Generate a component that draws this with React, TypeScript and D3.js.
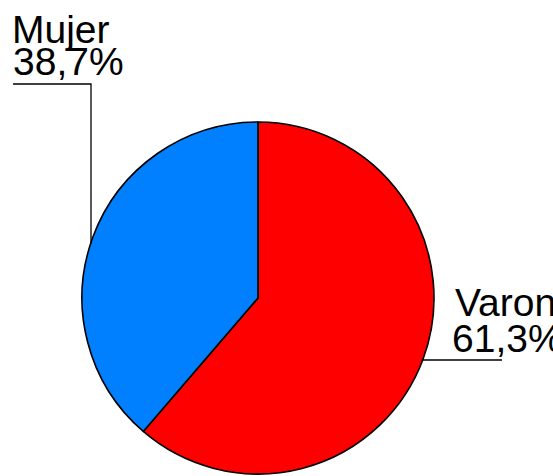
import React from "react";
import * as d3 from "d3";

const categories = ["Varon", "Mujer"];
const values = [61.3, 38.7];
const valueLabels = ["61,3%", "38,7%"];
const colors = ["#FF0000", "#0080FF"];

const W = 553;
const H = 476;
const cx = 258;
const cy = 298;
const R = 176;

const labelLayout = [
  { nameX: 455, nameY: 316, valX: 452, valY: 352, lineY: 360, lineFar: 502, side: "right" },
  { nameX: 12, nameY: 43, valX: 13, valY: 75, lineY: 84, lineFar: 13, side: "left", elbowX: 91 },
];

export default function App() {
  const pie = d3
    .pie<number>()
    .sort(null)
    .value((d) => d)
    .startAngle(0)
    .endAngle(2 * Math.PI);
  const arcs = pie(values);
  const arc = d3.arc<d3.PieArcDatum<number>>().innerRadius(0).outerRadius(R);

  return (
    <svg
      width={W}
      height={H}
      style={{ position: "absolute", left: 0, top: 0, fontFamily: "'Liberation Sans', Arial, sans-serif" }}
    >
      <rect width={W} height={H} fill="#fff" />
      <g transform={`translate(${cx},${cy})`}>
        {arcs.map((a, i) => (
          <path key={i} d={arc(a) || ""} fill={colors[i]} stroke="#000" strokeWidth={1.6} strokeLinejoin="round" />
        ))}
      </g>
      {labelLayout.map((l, i) => {
        let lineD = "";
        if (l.side === "right") {
          const dy = l.lineY - cy;
          const edgeX = cx + Math.sqrt(R * R - dy * dy) - 1;
          lineD = `M${edgeX},${l.lineY}H${l.lineFar}`;
        } else {
          const ex = l.elbowX as number;
          const dx = ex - cx;
          const edgeY = cy - Math.sqrt(R * R - dx * dx) + 1;
          lineD = `M${l.lineFar},${l.lineY}H${ex}V${edgeY}`;
        }
        return (
          <g key={i}>
            <path d={lineD} fill="none" stroke="#000" strokeWidth={1.3} />
            <text x={l.nameX} y={l.nameY} fontSize={39} fill="#000">
              {categories[i]}
            </text>
            <text x={l.valX} y={l.valY} fontSize={39} fill="#000">
              {valueLabels[i]}
            </text>
          </g>
        );
      })}
    </svg>
  );
}
